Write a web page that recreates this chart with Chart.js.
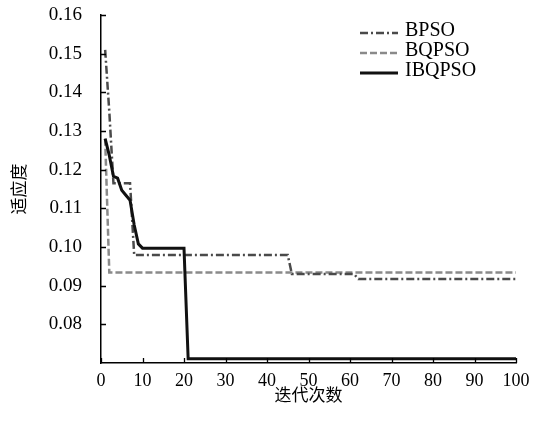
<!DOCTYPE html>
<html><head><meta charset="utf-8">
<script src="https://cdn.jsdelivr.net/npm/chart.js@4.4.1/dist/chart.umd.min.js"></script>
<style>html,body{margin:0;padding:0;background:#fff;} #wrap{width:546px;height:431px;position:relative;}</style>
</head><body><div id="wrap"><canvas id="c" width="546" height="431"></canvas></div>
<script>
const iterations = [
  1,2,3,4,5,6,7,8,9,10,
  11,12,13,14,15,16,17,18,19,20,
  21,22,23,24,25,26,27,28,29,30,
  31,32,33,34,35,36,37,38,39,40,
  41,42,43,44,45,46,47,48,49,50,
  51,52,53,54,55,56,57,58,59,60,
  61,62,63,64,65,66,67,68,69,70,
  71,72,73,74,75,76,77,78,79,80,
  81,82,83,84,85,86,87,88,89,90,
  91,92,93,94,95,96,97,98,99,100
];
const bpso = [
  0.151,0.135,0.1165,0.1165,0.1165,0.1165,0.1165,0.0979,0.0979,0.0979,
  0.0979,0.0979,0.0979,0.0979,0.0979,0.0979,0.0979,0.0979,0.0979,0.0979,
  0.0979,0.0979,0.0979,0.0979,0.0979,0.0979,0.0979,0.0979,0.0979,0.0979,
  0.0979,0.0979,0.0979,0.0979,0.0979,0.0979,0.0979,0.0979,0.0979,0.0979,
  0.0979,0.0979,0.0979,0.0979,0.0979,0.0930,0.0930,0.0930,0.0930,0.0930,
  0.0930,0.0930,0.0930,0.0930,0.0930,0.0930,0.0930,0.0930,0.0930,0.0930,
  0.0930,0.0917,0.0917,0.0917,0.0917,0.0917,0.0917,0.0917,0.0917,0.0917,
  0.0917,0.0917,0.0917,0.0917,0.0917,0.0917,0.0917,0.0917,0.0917,0.0917,
  0.0917,0.0917,0.0917,0.0917,0.0917,0.0917,0.0917,0.0917,0.0917,0.0917,
  0.0917,0.0917,0.0917,0.0917,0.0917,0.0917,0.0917,0.0917,0.0917,0.0917
];
const bqpso = [
  0.128,0.0934,0.0934,0.0934,0.0934,0.0934,0.0934,0.0934,0.0934,0.0934,
  0.0934,0.0934,0.0934,0.0934,0.0934,0.0934,0.0934,0.0934,0.0934,0.0934,
  0.0934,0.0934,0.0934,0.0934,0.0934,0.0934,0.0934,0.0934,0.0934,0.0934,
  0.0934,0.0934,0.0934,0.0934,0.0934,0.0934,0.0934,0.0934,0.0934,0.0934,
  0.0934,0.0934,0.0934,0.0934,0.0934,0.0934,0.0934,0.0934,0.0934,0.0934,
  0.0934,0.0934,0.0934,0.0934,0.0934,0.0934,0.0934,0.0934,0.0934,0.0934,
  0.0934,0.0934,0.0934,0.0934,0.0934,0.0934,0.0934,0.0934,0.0934,0.0934,
  0.0934,0.0934,0.0934,0.0934,0.0934,0.0934,0.0934,0.0934,0.0934,0.0934,
  0.0934,0.0934,0.0934,0.0934,0.0934,0.0934,0.0934,0.0934,0.0934,0.0934,
  0.0934,0.0934,0.0934,0.0934,0.0934,0.0934,0.0934,0.0934,0.0934,0.0934
];
const ibqpso = [
  0.128,0.1237,0.1183,0.1178,0.1147,0.1134,0.1121,0.1057,0.1008,0.0997,
  0.0997,0.0997,0.0997,0.0997,0.0997,0.0997,0.0997,0.0997,0.0997,0.0997,
  0.0711,0.0711,0.0711,0.0711,0.0711,0.0711,0.0711,0.0711,0.0711,0.0711,
  0.0711,0.0711,0.0711,0.0711,0.0711,0.0711,0.0711,0.0711,0.0711,0.0711,
  0.0711,0.0711,0.0711,0.0711,0.0711,0.0711,0.0711,0.0711,0.0711,0.0711,
  0.0711,0.0711,0.0711,0.0711,0.0711,0.0711,0.0711,0.0711,0.0711,0.0711,
  0.0711,0.0711,0.0711,0.0711,0.0711,0.0711,0.0711,0.0711,0.0711,0.0711,
  0.0711,0.0711,0.0711,0.0711,0.0711,0.0711,0.0711,0.0711,0.0711,0.0711,
  0.0711,0.0711,0.0711,0.0711,0.0711,0.0711,0.0711,0.0711,0.0711,0.0711,
  0.0711,0.0711,0.0711,0.0711,0.0711,0.0711,0.0711,0.0711,0.0711,0.0711
];
const seriesNames = ['BPSO', 'BQPSO', 'IBQPSO'];
const xTickValues = [0,10,20,30,40,50,60,70,80,90,100];
const yTickValues = [0.08,0.09,0.10,0.11,0.12,0.13,0.14,0.15,0.16];
const xTitle = '迭代次数';
const yTitle = '适应度';

const serif = "'Liberation Serif','Times New Roman',serif";
const cjk = "'Noto Sans CJK SC','Noto Sans CJK JP',sans-serif";

const inwardTicks = {
  id: 'inwardTicks',
  afterDatasetsDraw(chart) {
    const {ctx, chartArea, scales} = chart;
    ctx.save();
    ctx.strokeStyle = '#000';
    ctx.lineWidth = 1.3;
    ctx.setLineDash([]);
    ctx.beginPath();
    xTickValues.forEach(v => {
      const px = Math.round(scales.x.getPixelForValue(v)) + 0.5;
      ctx.moveTo(px, chartArea.bottom);
      ctx.lineTo(px, chartArea.bottom - 5);
    });
    yTickValues.forEach(v => {
      const py = Math.round(scales.y.getPixelForValue(v)) + 0.5;
      ctx.moveTo(chartArea.left, py);
      ctx.lineTo(chartArea.left + 5, py);
    });
    ctx.stroke();
    ctx.restore();
  }
};

const innerLegend = {
  id: 'innerLegend',
  afterDraw(chart) {
    const {ctx} = chart;
    const x0 = 360, x1 = 398, tx = 405;
    const rows = [31, 51, 71];
    ctx.save();
    chart.data.datasets.forEach((ds, i) => {
      const y = rows[i];
      ctx.strokeStyle = ds.borderColor;
      ctx.lineWidth = ds.borderWidth;
      ctx.setLineDash(ds.borderDash || []);
      ctx.beginPath();
      ctx.moveTo(x0, y + 2);
      ctx.lineTo(x1, y + 2);
      ctx.stroke();
      ctx.setLineDash([]);
      ctx.fillStyle = '#000';
      ctx.font = '20px ' + serif;
      ctx.textBaseline = 'middle';
      ctx.textAlign = 'left';
      ctx.fillText(ds.label, tx, y);
    });
    ctx.restore();
  }
};

new Chart(document.getElementById('c'), {
  type: 'line',
  data: {
    labels: iterations,
    datasets: [
      { label: seriesNames[0], data: bpso, borderColor: '#4a4a4a', borderWidth: 2.5, borderDash: [8,3,2,3], order: 2 },
      { label: seriesNames[1], data: bqpso, borderColor: '#8a8a8a', borderWidth: 2.5, borderDash: [7,3], order: 3 },
      { label: seriesNames[2], data: ibqpso, borderColor: '#111', borderWidth: 3, order: 1 }
    ]
  },
  options: {
    responsive: false,
    devicePixelRatio: 1,
    animation: false,
    layout: { padding: { top: 15, right: 30, bottom: 0, left: 0 } },
    elements: { point: { radius: 0 }, line: { tension: 0, borderCapStyle: 'butt', fill: false } },
    plugins: { legend: { display: false }, tooltip: { enabled: false } },
    scales: {
      x: {
        type: 'linear', min: 0, max: 100,
        afterBuildTicks: s => { s.ticks = xTickValues.map(v => ({ value: v })); },
        afterFit: s => { s.height = 68; s.paddingLeft = 0; s.paddingRight = 0; },
        ticks: { color: '#000', font: { family: serif, size: 18 }, padding: 7, maxRotation: 0, autoSkip: false },
        grid: { drawOnChartArea: false, drawTicks: false },
        border: { display: true, color: '#000', width: 1.5 },
        title: { display: true, text: xTitle, color: '#000', font: { family: cjk, size: 17 }, padding: { top: 0, bottom: 26 } }
      },
      y: {
        type: 'linear', min: 0.07, max: 0.16,
        afterBuildTicks: s => { s.ticks = yTickValues.map(v => ({ value: v })); },
        afterFit: s => { s.width = 101; s.paddingTop = 0; s.paddingBottom = 0; },
        ticks: { color: '#000', font: { family: serif, size: 19 }, padding: 19, autoSkip: false,
                 callback: v => v.toFixed(2) },
        grid: { drawOnChartArea: false, drawTicks: false },
        border: { display: true, color: '#000', width: 1.5 },
        title: { display: true, text: yTitle, color: '#000', font: { family: cjk, size: 17 }, padding: { top: 8, bottom: 0 } }
      }
    }
  },
  plugins: [inwardTicks, innerLegend]
});
</script></body></html>
